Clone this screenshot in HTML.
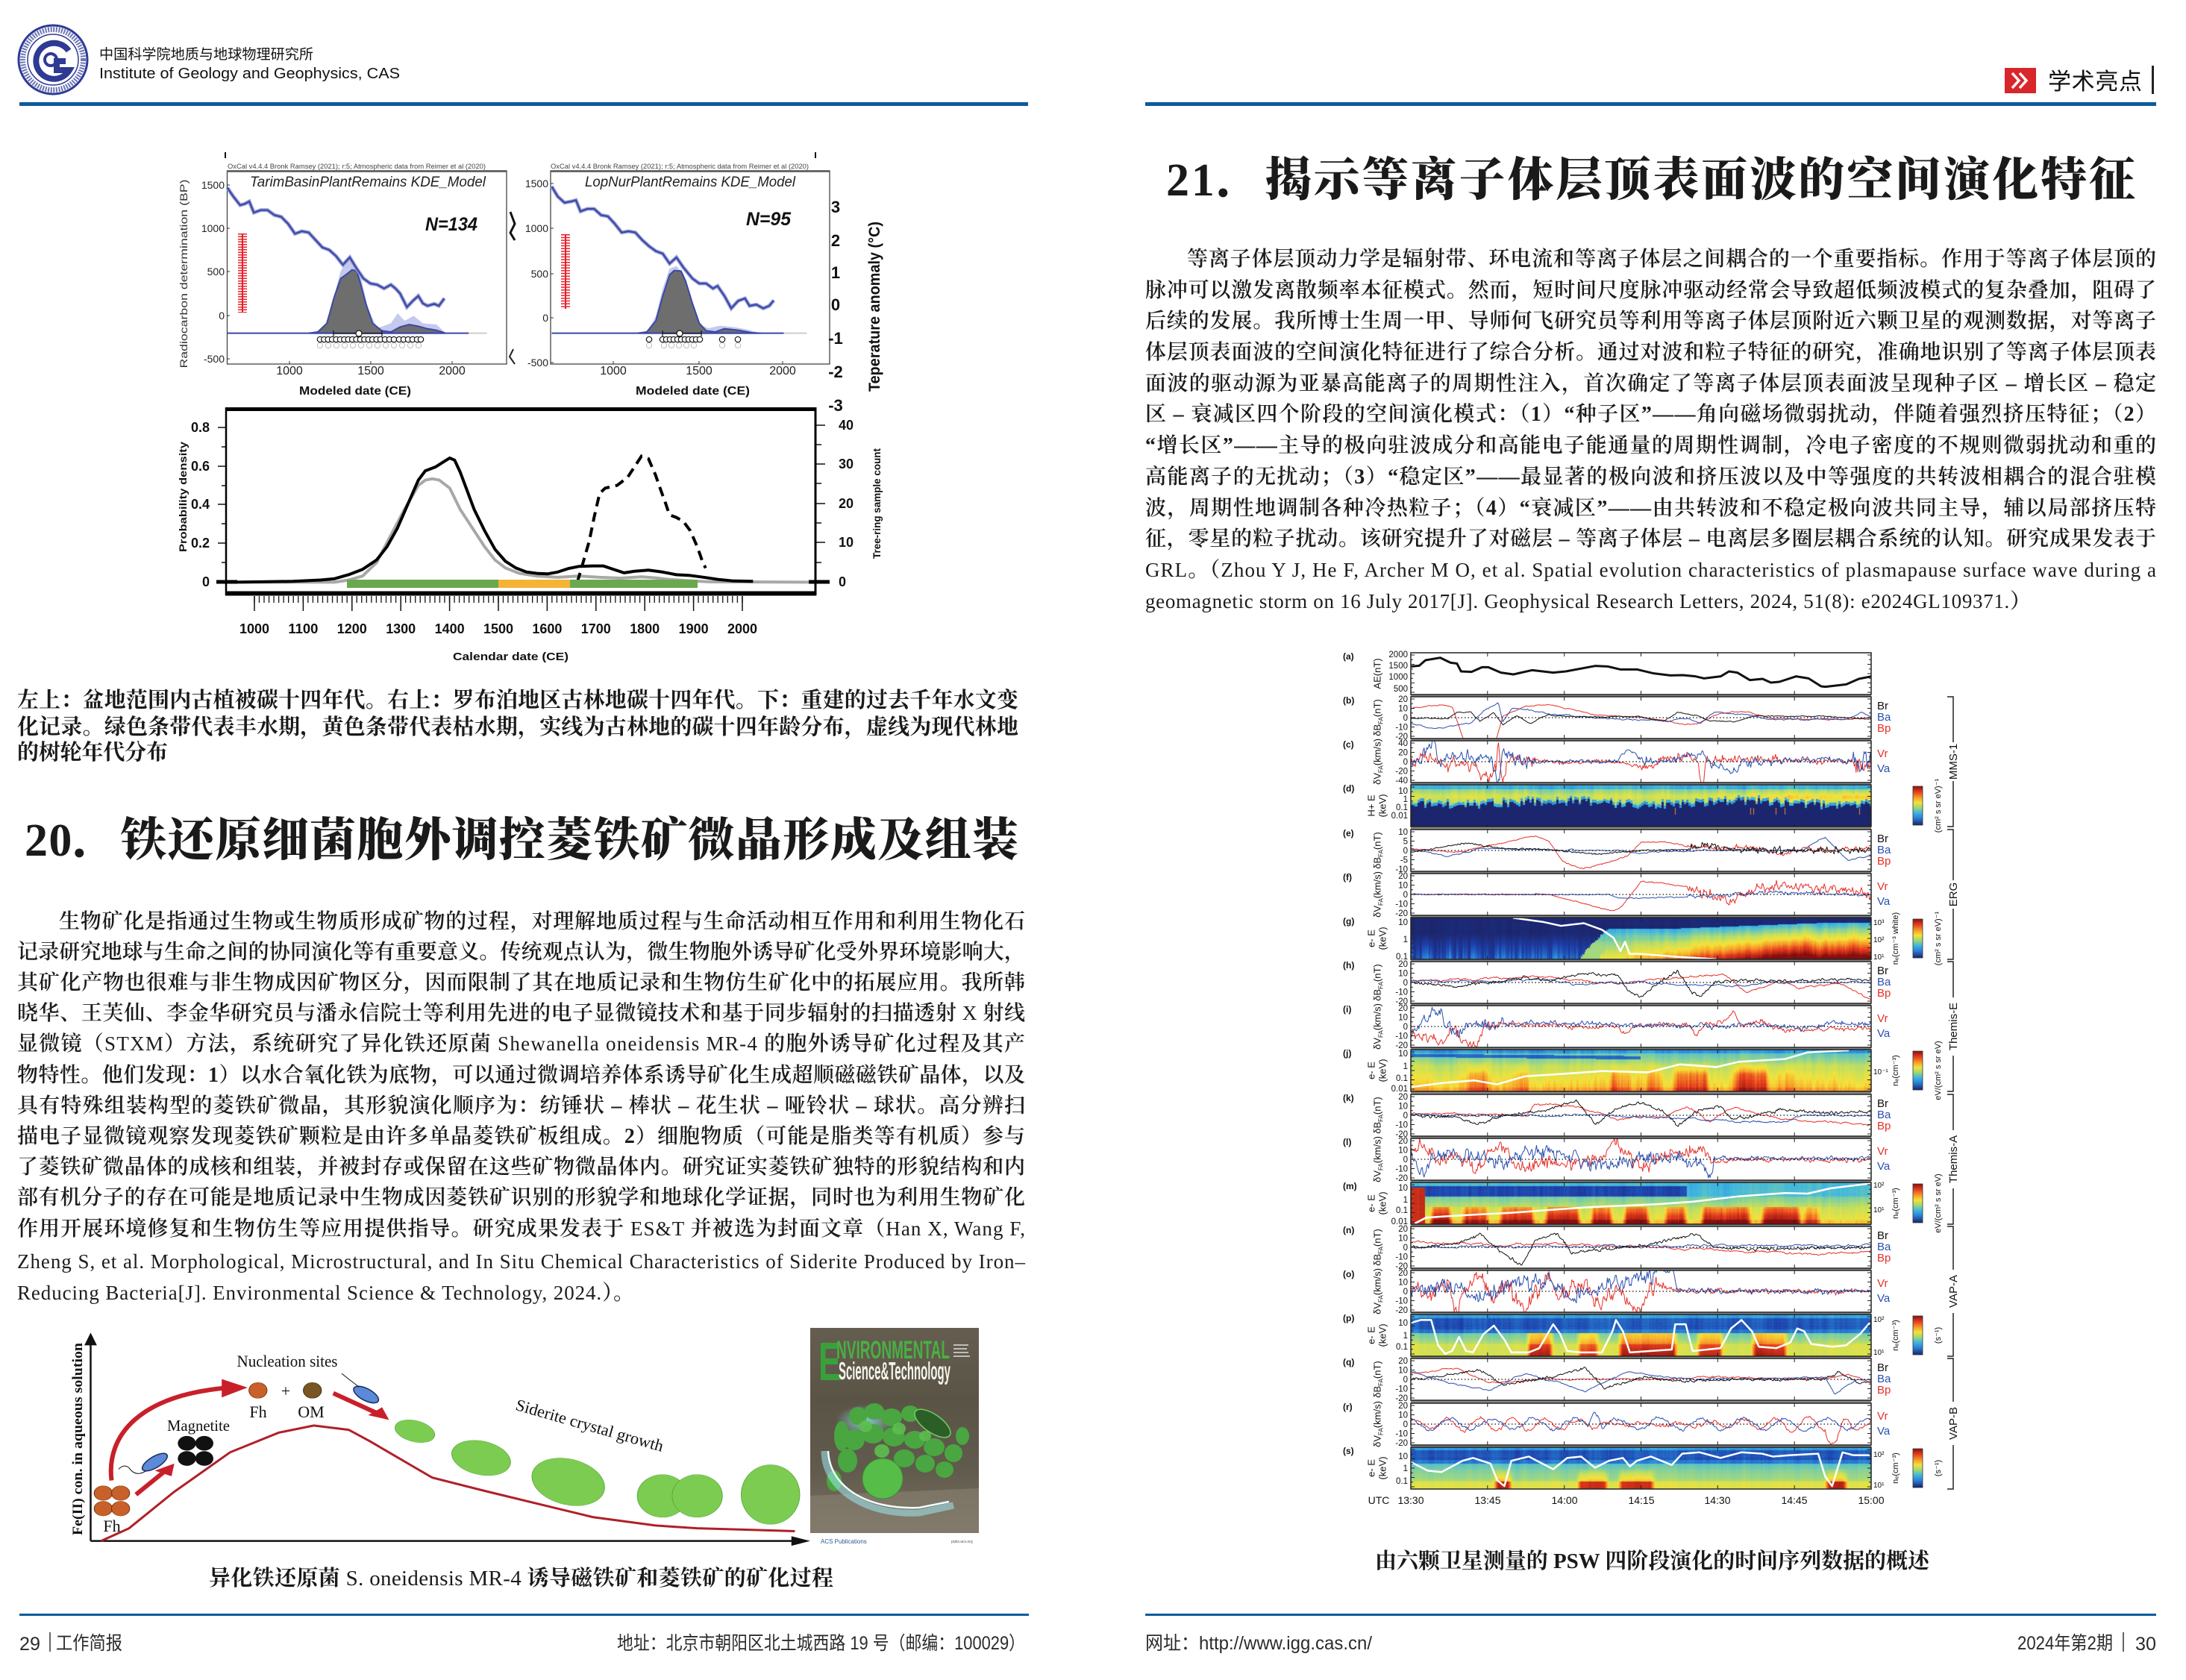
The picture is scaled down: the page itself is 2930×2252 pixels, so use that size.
<!DOCTYPE html>
<html lang="zh"><head><meta charset="utf-8"><title>IGG 工作简报</title>
<style>
html,body{margin:0;padding:0;background:#fff}
body{width:2930px;height:2252px;position:relative;overflow:hidden}
canvas{position:absolute;left:1891px;width:617px;height:56px;z-index:1}
#main{position:absolute;left:0;top:0;z-index:2}
.b{font-family:"Liberation Serif","Noto Serif CJK SC",serif;font-size:28px;font-weight:600;fill:#1c1c1c}
.e{font-weight:400;font-size:27px}
.cap{font-family:"Liberation Serif","Noto Serif CJK SC",serif;font-size:29px;font-weight:700;fill:#1a1a1a}
.ttl{font-family:"Liberation Serif","Noto Serif CJK SC",serif;font-size:62px;font-weight:900;fill:#1a1a1a}
.s{font-family:"Liberation Sans",sans-serif}
.sr{font-family:"Liberation Serif",serif;fill:#111}
.tk{font-family:"Liberation Sans",sans-serif;font-size:11.5px;fill:#111;text-anchor:end}
.pl{font-family:"Liberation Sans",sans-serif;font-size:12px;font-weight:700;fill:#111}
.yl{font-family:"Liberation Sans",sans-serif;font-size:13px;fill:#111;text-anchor:middle}
.lg{font-family:"Liberation Sans",sans-serif;font-size:15px}
.ft{font-family:"Liberation Sans","Noto Sans CJK SC",sans-serif;font-size:25px;fill:#2b2b2b}
.ax{font-family:"Liberation Sans",sans-serif;font-weight:700;fill:#111}
</style></head><body>
<canvas id="sd" width="617" height="56" style="top:1052px"></canvas>
<canvas id="sg" width="617" height="56" style="top:1230px"></canvas>
<canvas id="sj" width="617" height="56" style="top:1407px"></canvas>
<canvas id="sm" width="617" height="56" style="top:1585px"></canvas>
<canvas id="sp" width="617" height="56" style="top:1762px"></canvas>
<canvas id="ss" width="617" height="56" style="top:1940px"></canvas>

<svg id="main" width="2930" height="2252" viewBox="0 0 2930 2252" xmlns="http://www.w3.org/2000/svg">
<defs id="dfs">
<linearGradient id="jetv" x1="0" y1="0" x2="0" y2="1">
<stop offset="0" stop-color="#8a1010"/><stop offset="0.15" stop-color="#e8401e"/><stop offset="0.3" stop-color="#f7a02a"/><stop offset="0.42" stop-color="#f4e23a"/><stop offset="0.55" stop-color="#9fd870"/><stop offset="0.68" stop-color="#3fb6e0"/><stop offset="0.82" stop-color="#2a7fd6"/><stop offset="1" stop-color="#1a2266"/>
</linearGradient>
<linearGradient id="cov" x1="0" y1="0" x2="0" y2="1">
<stop offset="0" stop-color="#655e50"/><stop offset="0.35" stop-color="#5a5447"/><stop offset="0.7" stop-color="#615b4d"/><stop offset="1" stop-color="#7c7464"/>
</linearGradient>
<radialGradient id="glow" cx="0.5" cy="0.5" r="0.5">
<stop offset="0" stop-color="#8fe8f0" stop-opacity="0.8"/><stop offset="1" stop-color="#8fe8f0" stop-opacity="0"/>
</radialGradient>
<pattern id="mt" x="340.25" y="0" width="6.54" height="30" patternUnits="userSpaceOnUse"><rect width="1.3" height="30" fill="#111"/></pattern>
</defs>

<!-- ================= HEADER ================= -->
<circle cx="71" cy="80" r="46" fill="#fff" stroke="#2e3a94" stroke-width="3"/>
<circle cx="71" cy="80" r="40.5" fill="none" stroke="#2e3a94" stroke-width="7" stroke-dasharray="2 1.6" opacity="0.7"/>
<circle cx="71" cy="80" r="34" fill="#fff" stroke="#2e3a94" stroke-width="1.5"/>
<path d="M92,68 A24,24 0 1 0 93,94 L76,94 L76,82 L88,82" fill="none" stroke="#2e3a94" stroke-width="8"/>
<circle cx="68" cy="80" r="8" fill="none" stroke="#2e3a94" stroke-width="4"/>
<text x="133" y="79" font-family="Liberation Sans,Noto Sans CJK SC,sans-serif" font-size="19" fill="#111" textLength="287" lengthAdjust="spacingAndGlyphs">中国科学院地质与地球物理研究所</text>
<text x="133" y="105" class="s" font-size="20" fill="#111" textLength="403" lengthAdjust="spacingAndGlyphs">Institute of Geology and Geophysics, CAS</text>
<rect x="26" y="137" width="1352" height="5" fill="#0d5b9c"/>
<rect x="1535" y="137" width="1355" height="5" fill="#0d5b9c"/>
<rect x="2687" y="91" width="42" height="34" fill="#d9262b"/>
<path d="M2697,98 L2706,108 L2697,118 M2707,98 L2716,108 L2707,118" fill="none" stroke="#fff" stroke-width="3.5"/>
<text x="2745" y="120" font-family="Liberation Sans,Noto Sans CJK SC,sans-serif" font-size="31" fill="#111" textLength="126">学术亮点</text>
<rect x="2884" y="88" width="3" height="38" fill="#222"/>

<!-- ================= LEFT TOP CHART ================= -->
<line x1="302" y1="204" x2="302" y2="212" stroke="#111" stroke-width="2"/>
<line x1="1093" y1="204" x2="1093" y2="212" stroke="#111" stroke-width="2"/>
<path d="M684,284 L690,300 L684,312 L690,322" stroke="#111" stroke-width="3" fill="none"/>
<path d="M688,468 L683,478 L690,488" stroke="#222" stroke-width="2" fill="none"/>
<rect x="304.5" y="229" width="374.5" height="259" fill="none" stroke="#444" stroke-width="1.3"/>
<line x1="304" y1="229.5" x2="679" y2="229.5" stroke="#555" stroke-width="2.5"/>
<rect x="738" y="229" width="374" height="259" fill="none" stroke="#444" stroke-width="1.3"/>
<line x1="738" y1="229.5" x2="1112" y2="229.5" stroke="#555" stroke-width="2.5"/>
<text x="305" y="226" class="s" font-size="9" fill="#444" textLength="346" lengthAdjust="spacingAndGlyphs">OxCal v4.4.4 Bronk Ramsey (2021); r:5; Atmospheric data from Reimer et al (2020)</text>
<text x="738" y="226" class="s" font-size="9" fill="#444" textLength="346" lengthAdjust="spacingAndGlyphs">OxCal v4.4.4 Bronk Ramsey (2021); r:5; Atmospheric data from Reimer et al (2020)</text>

<g transform="translate(230,200) scale(0.61237,0.33333)" fill="none">
<path d="M330,740 L350,630 L370,490 L385,445 L400,460 L415,520 L430,640 L450,720 L480,700 L495,660 L510,690 L530,670 L550,700 L580,705 L600,740 Z" fill="#c5c9ee" stroke="none"/>
<path d="M1040,740 L1060,670 L1075,560 L1090,480 L1105,470 L1120,500 L1135,600 L1150,700 L1175,720 L1200,710 L1230,715 L1260,725 L1290,740 Z" fill="#c5c9ee" stroke="none"/>
<path d="M300,740 L320,735 L340,700 L355,600 L370,520 L385,500 L395,485 L405,490 L412,530 L425,620 L440,700 L460,730 L480,735 L500,715 L520,705 L540,712 L560,722 L580,728 L600,740 Z" fill="#6e6e6e" stroke="#3a48a6" stroke-width="2" vector-effect="non-scaling-stroke"/>
<path d="M1020,740 L1040,735 L1060,690 L1075,590 L1090,505 L1100,488 L1115,490 L1125,530 L1140,620 L1155,700 L1170,730 L1190,735 L1210,722 L1240,728 L1270,738 L1290,740 Z" fill="#6e6e6e" stroke="#3a48a6" stroke-width="2" vector-effect="non-scaling-stroke"/>
<path d="M122,740 L650,740 M832,740 L1340,740" stroke="#3a48a6" stroke-width="2" vector-effect="non-scaling-stroke"/>
<path d="M650,740 L690,740 M1340,740 L1390,740" stroke="#ccc" stroke-width="2" vector-effect="non-scaling-stroke"/>
<path d="M122,155 L135,190 L150,225 L160,220 L170,210 L180,255 L195,245 L210,245 L225,265 L240,272 L255,300 L270,340 L285,330 L300,335 L315,365 L330,395 L345,405 L360,430 L375,465 L390,435 L405,480 L420,520 L435,540 L450,545 L465,560 L480,545 L490,560 L500,580 L515,635 L528,610 L540,590 L550,620 L560,630 L575,622 L585,630 L597,600" stroke="#9aa0d8" stroke-width="5" vector-effect="non-scaling-stroke"/>
<path d="M122,155 L135,190 L150,225 L160,220 L170,210 L180,255 L195,245 L210,245 L225,265 L240,272 L255,300 L270,340 L285,330 L300,335 L315,365 L330,395 L345,405 L360,430 L375,465 L390,435 L405,480 L420,520 L435,540 L450,545 L465,560 L480,545 L490,560 L500,580 L515,635 L528,610 L540,590 L550,620 L560,630 L575,622 L585,630 L597,600" stroke="#3a48a6" stroke-width="2.2" vector-effect="non-scaling-stroke"/>
<path d="M832,150 L845,190 L860,215 L875,210 L885,205 L895,250 L910,240 L925,240 L940,265 L955,270 L970,300 L985,335 L1000,330 L1015,335 L1030,365 L1045,390 L1060,410 L1075,420 L1090,460 L1105,435 L1120,475 L1140,520 L1155,540 L1170,540 L1185,560 L1195,550 L1210,590 L1225,640 L1240,610 L1255,600 L1265,630 L1280,625 L1295,640 L1308,630 L1318,608" stroke="#9aa0d8" stroke-width="5" vector-effect="non-scaling-stroke"/>
<path d="M832,150 L845,190 L860,215 L875,210 L885,205 L895,250 L910,240 L925,240 L940,265 L955,270 L970,300 L985,335 L1000,330 L1015,335 L1030,365 L1045,390 L1060,410 L1075,420 L1090,460 L1105,435 L1120,475 L1140,520 L1155,540 L1170,540 L1185,560 L1195,550 L1210,590 L1225,640 L1240,610 L1255,600 L1265,630 L1280,625 L1295,640 L1308,630 L1318,608" stroke="#3a48a6" stroke-width="2.2" vector-effect="non-scaling-stroke"/>
</g>
<!-- red crosses -->
<line x1="325" y1="313" x2="325" y2="419" stroke="#e8202a" stroke-width="2"/>
<line x1="325" y1="313" x2="325" y2="419" stroke="#e8202a" stroke-width="12" stroke-dasharray="1.5 2"/>
<line x1="758" y1="314" x2="758" y2="414" stroke="#e8202a" stroke-width="2"/>
<line x1="758" y1="314" x2="758" y2="414" stroke="#e8202a" stroke-width="12" stroke-dasharray="1.5 2.2"/>
<!-- circle rows -->
<g fill="#fff" stroke="#bbb" stroke-width="1">
<circle cx="429" cy="463" r="3.6"/><circle cx="440" cy="463" r="3.6"/><circle cx="451" cy="463" r="3.6"/><circle cx="462" cy="463" r="3.6"/><circle cx="473" cy="463" r="3.6"/><circle cx="484" cy="463" r="3.6"/><circle cx="495" cy="463" r="3.6"/><circle cx="506" cy="463" r="3.6"/><circle cx="517" cy="463" r="3.6"/><circle cx="528" cy="463" r="3.6"/><circle cx="539" cy="463" r="3.6"/><circle cx="550" cy="463" r="3.6"/><circle cx="561" cy="463" r="3.6"/>
<circle cx="870" cy="463" r="3.6"/><circle cx="890" cy="463" r="3.6"/><circle cx="900" cy="463" r="3.6"/><circle cx="910" cy="463" r="3.6"/><circle cx="920" cy="463" r="3.6"/><circle cx="930" cy="463" r="3.6"/><circle cx="968" cy="463" r="3.6"/><circle cx="989" cy="463" r="3.6"/>
</g>
<g fill="#fff" stroke="#111" stroke-width="1.2">
<circle cx="429" cy="455" r="3.7"/><circle cx="434.4" cy="455" r="3.7"/><circle cx="439.8" cy="455" r="3.7"/><circle cx="445.2" cy="455" r="3.7"/><circle cx="450.6" cy="455" r="3.7"/><circle cx="456" cy="455" r="3.7"/><circle cx="461.4" cy="455" r="3.7"/><circle cx="466.8" cy="455" r="3.7"/><circle cx="472.2" cy="455" r="3.7"/><circle cx="477.6" cy="455" r="3.7"/><circle cx="483" cy="455" r="3.7"/><circle cx="488.4" cy="455" r="3.7"/><circle cx="493.8" cy="455" r="3.7"/><circle cx="499.2" cy="455" r="3.7"/><circle cx="504.6" cy="455" r="3.7"/><circle cx="510" cy="455" r="3.7"/><circle cx="516" cy="455" r="3.7"/><circle cx="522" cy="455" r="3.7"/><circle cx="528" cy="455" r="3.7"/><circle cx="535" cy="455" r="3.7"/><circle cx="541" cy="455" r="3.7"/><circle cx="547" cy="455" r="3.7"/><circle cx="553" cy="455" r="3.7"/><circle cx="559" cy="455" r="3.7"/><circle cx="564" cy="455" r="3.7"/>
<circle cx="870" cy="455" r="3.7"/><circle cx="888" cy="455" r="3.7"/><circle cx="893" cy="455" r="3.7"/><circle cx="898" cy="455" r="3.7"/><circle cx="903" cy="455" r="3.7"/><circle cx="908" cy="455" r="3.7"/><circle cx="913" cy="455" r="3.7"/><circle cx="918" cy="455" r="3.7"/><circle cx="923" cy="455" r="3.7"/><circle cx="928" cy="455" r="3.7"/><circle cx="933" cy="455" r="3.7"/><circle cx="938" cy="455" r="3.7"/><circle cx="968" cy="455" r="3.7"/><circle cx="989" cy="455" r="3.7"/>
</g>
<path d="M447,447 H512 M447,443 V451 M512,443 V451 M888,447 H940 M888,443 V451 M940,443 V451" stroke="#111" stroke-width="1.2"/>
<circle cx="481" cy="447" r="4" fill="#fff" stroke="#111" stroke-width="1.2"/>
<circle cx="911" cy="447" r="4" fill="#fff" stroke="#111" stroke-width="1.2"/>
<!-- labels -->
<text x="335" y="250" class="s" font-size="19" font-style="italic" fill="#222" textLength="316" lengthAdjust="spacingAndGlyphs">TarimBasinPlantRemains KDE_Model</text>
<text x="784" y="250" class="s" font-size="19" font-style="italic" fill="#222" textLength="282" lengthAdjust="spacingAndGlyphs">LopNurPlantRemains KDE_Model</text>
<text x="570" y="309" class="s" font-size="25" font-style="italic" font-weight="700" fill="#111" textLength="70" lengthAdjust="spacingAndGlyphs">N=134</text>
<text x="1000" y="302" class="s" font-size="25" font-style="italic" font-weight="700" fill="#111" textLength="60" lengthAdjust="spacingAndGlyphs">N=95</text>
<g class="s" font-size="14" fill="#222" text-anchor="end">
<text x="301" y="253">1500</text><text x="301" y="311">1000</text><text x="301" y="369">500</text><text x="301" y="428">0</text><text x="301" y="486">-500</text>
<text x="735" y="251">1500</text><text x="735" y="311">1000</text><text x="735" y="372">500</text><text x="735" y="431">0</text><text x="735" y="491">-500</text>
</g>
<path d="M304,248 h4 M304,306 h4 M304,364 h4 M304,423 h4 M304,481 h4 M738,246 h4 M738,306 h4 M738,367 h4 M738,426 h4 M738,486 h4 M388,488 v-4 M497,488 v-4 M606,488 v-4 M822,488 v-4 M937,488 v-4 M1049,488 v-4" stroke="#333" stroke-width="1"/>
<g class="s" font-size="16" fill="#222" text-anchor="middle">
<text x="388" y="502">1000</text><text x="497" y="502">1500</text><text x="606" y="502">2000</text>
<text x="822" y="502">1000</text><text x="937" y="502">1500</text><text x="1049" y="502">2000</text>
</g>
<text x="401" y="529" class="ax" font-size="16" textLength="150" lengthAdjust="spacingAndGlyphs">Modeled date (CE)</text>
<text x="852" y="529" class="ax" font-size="16" textLength="153" lengthAdjust="spacingAndGlyphs">Modeled date (CE)</text>
<g class="ax" font-size="22" text-anchor="middle">
<text x="1120" y="285">3</text><text x="1120" y="330">2</text><text x="1120" y="373">1</text><text x="1120" y="416">0</text><text x="1120" y="461">-1</text><text x="1120" y="506">-2</text><text x="1120" y="551">-3</text>
</g>
<text transform="rotate(-90 1172 411)" x="1172" y="418" class="ax" font-size="21" text-anchor="middle" textLength="228" lengthAdjust="spacingAndGlyphs">Teperature anomaly (°C)</text>
<text transform="rotate(-90 246 367)" x="246" y="372" class="s" font-size="14" fill="#333" text-anchor="middle" textLength="253" lengthAdjust="spacingAndGlyphs">Radiocarbon determination (BP)</text>

<!-- ================= LEFT BOTTOM CHART ================= -->
<g transform="translate(0,540) scale(0.93458,0.35714)" fill="none">
<path d="M345,673 L480,673 L500,665 L520,650 L540,600 L560,500 L580,400 L600,310 L610,290 L620,285 L630,290 L645,320 L660,400 L680,480 L695,540 L710,590 L725,620 L745,640 L770,650 L800,655 L830,650 L860,655 L890,658 L920,653 L940,657 L960,663 L990,668 L1020,672 L1160,673" stroke="#a8a8a8" stroke-width="4" stroke-linejoin="round" vector-effect="non-scaling-stroke"/>
<path d="M340,673 L420,670 L460,665 L480,660 L500,645 L520,625 L540,590 L555,540 L570,470 L585,380 L600,290 L610,255 L625,240 L640,215 L645,207 L652,215 L660,260 L670,330 L680,400 L695,480 L710,550 L725,595 L740,620 L755,635 L770,640 L785,642 L800,635 L815,622 L830,614 L850,612 L865,612 L880,625 L895,638 L910,632 L930,628 L950,635 L970,645 L990,648 L1010,655 L1030,663 L1050,668 L1080,670" stroke="#000" stroke-width="4" stroke-linejoin="round" vector-effect="non-scaling-stroke"/>
</g>
<path d="M773.8,780.4 L780.4,757.9 L789.7,725.7 L796.3,693.6 L803.7,661.4 L811.2,654.3 L827.1,650.7 L841.1,640 L850.5,625.7 L859.8,611.4 L869.2,615 L878.5,636.4 L886,657.9 L892.5,675.7 L897.2,690 L906.5,693.6 L915.9,698.9 L925.2,711.4 L934.6,732.9 L942.1,754.3 L945.8,761.4" fill="none" stroke="#000" stroke-width="4" stroke-dasharray="13 8"/>
<rect x="465" y="777" width="203" height="11" fill="#6aa84f"/>
<rect x="668" y="777" width="96" height="11" fill="#f5b335"/>
<rect x="764" y="777" width="171" height="11" fill="#6aa84f"/>
<line x1="302" y1="548.5" x2="1094" y2="548.5" stroke="#000" stroke-width="5"/>
<line x1="302" y1="795.5" x2="1094" y2="795.5" stroke="#000" stroke-width="6"/>
<line x1="303" y1="546" x2="303" y2="798" stroke="#000" stroke-width="2.5"/>
<line x1="1093" y1="546" x2="1093" y2="798" stroke="#000" stroke-width="3"/>
<path d="M292,573 H302 M292,625 H302 M292,676 H302 M292,728 H302 M297,599 H302 M297,651 H302 M297,702 H302 M297,754 H302 M1093,570 H1106 M1093,622 H1106 M1093,675 H1106 M1093,727 H1106 M1093,596 H1101 M1093,648 H1101 M1093,701 H1101 M1093,754 H1101" stroke="#111" stroke-width="1.5"/>
<path d="M290,780 H318 M1084,780 H1112" stroke="#000" stroke-width="5"/>
<rect x="340" y="799" width="657" height="9" fill="url(#mt)"/>
<path d="M341,799V819 M406.4,799V819 M471.8,799V819 M537.2,799V819 M602.6,799V819 M668,799V819 M733.4,799V819 M798.8,799V819 M864.2,799V819 M929.6,799V819 M995,799V819" stroke="#111" stroke-width="1.5"/>
<g class="ax" font-size="18" text-anchor="end">
<text x="281" y="579">0.8</text><text x="281" y="631">0.6</text><text x="281" y="682">0.4</text><text x="281" y="734">0.2</text><text x="281" y="786">0</text>
</g>
<g class="ax" font-size="18">
<text x="1124" y="576">40</text><text x="1124" y="628">30</text><text x="1124" y="681">20</text><text x="1124" y="733">10</text><text x="1124" y="786">0</text>
</g>
<g class="ax" font-size="18" text-anchor="middle">
<text x="341" y="849" textLength="40" lengthAdjust="spacingAndGlyphs">1000</text><text x="406.4" y="849" textLength="40" lengthAdjust="spacingAndGlyphs">1100</text><text x="471.8" y="849" textLength="40" lengthAdjust="spacingAndGlyphs">1200</text><text x="537.2" y="849" textLength="40" lengthAdjust="spacingAndGlyphs">1300</text><text x="602.6" y="849" textLength="40" lengthAdjust="spacingAndGlyphs">1400</text><text x="668" y="849" textLength="40" lengthAdjust="spacingAndGlyphs">1500</text><text x="733.4" y="849" textLength="40" lengthAdjust="spacingAndGlyphs">1600</text><text x="798.8" y="849" textLength="40" lengthAdjust="spacingAndGlyphs">1700</text><text x="864.2" y="849" textLength="40" lengthAdjust="spacingAndGlyphs">1800</text><text x="929.6" y="849" textLength="40" lengthAdjust="spacingAndGlyphs">1900</text><text x="995" y="849" textLength="40" lengthAdjust="spacingAndGlyphs">2000</text>
</g>
<text x="607" y="885" class="ax" font-size="15" textLength="155" lengthAdjust="spacingAndGlyphs">Calendar date (CE)</text>
<text transform="rotate(-90 245 666)" x="245" y="671" class="ax" font-size="14" fill="#333" text-anchor="middle" textLength="148" lengthAdjust="spacingAndGlyphs">Probability density</text>
<text transform="rotate(-90 1175 675)" x="1175" y="680" class="ax" font-size="14" fill="#333" text-anchor="middle" textLength="148" lengthAdjust="spacingAndGlyphs">Tree-ring sample count</text>

<!-- left caption -->
<text x="23" y="948" class="cap" textLength="1342">左上：盆地范围内古植被碳十四年代。右上：罗布泊地区古林地碳十四年代。下：重建的过去千年水文变</text>
<text x="23" y="984" class="cap" textLength="1342">化记录。绿色条带代表丰水期，黄色条带代表枯水期，实线为古林地的碳十四年龄分布，虚线为现代林地</text>
<text x="23" y="1018" class="cap" textLength="202">的树轮年代分布</text>

<!-- ================= TITLE 20 + BODY ================= -->
<text x="33" y="1147" class="ttl" textLength="1332">20．铁还原细菌胞外调控菱铁矿微晶形成及组装</text>
<text x="79" y="1244" class="b" textLength="1295">生物矿化是指通过生物或生物质形成矿物的过程，对理解地质过程与生命活动相互作用和利用生物化石</text>
<text x="23" y="1285" class="b" textLength="1351">记录研究地球与生命之间的协同演化等有重要意义。传统观点认为，微生物胞外诱导矿化受外界环境影响大，</text>
<text x="23" y="1326" class="b" textLength="1351">其矿化产物也很难与非生物成因矿物区分，因而限制了其在地质记录和生物仿生矿化中的拓展应用。我所韩</text>
<text x="23" y="1367" class="b" textLength="1351">晓华、王芙仙、李金华研究员与潘永信院士等利用先进的电子显微镜技术和基于同步辐射的扫描透射<tspan class="e"> X </tspan>射线</text>
<text x="23" y="1408" class="b" textLength="1351">显微镜（<tspan class="e">STXM</tspan>）方法，系统研究了异化铁还原菌<tspan class="e"> Shewanella oneidensis MR-4 </tspan>的胞外诱导矿化过程及其产</text>
<text x="23" y="1450" class="b" textLength="1351">物特性。他们发现：1）以水合氧化铁为底物，可以通过微调培养体系诱导矿化生成超顺磁磁铁矿晶体，以及</text>
<text x="23" y="1491" class="b" textLength="1351">具有特殊组装构型的菱铁矿微晶，其形貌演化顺序为：纺锤状 – 棒状 – 花生状 – 哑铃状 – 球状。高分辨扫</text>
<text x="23" y="1532" class="b" textLength="1351">描电子显微镜观察发现菱铁矿颗粒是由许多单晶菱铁矿板组成。2）细胞物质（可能是脂类等有机质）参与</text>
<text x="23" y="1573" class="b" textLength="1351">了菱铁矿微晶体的成核和组装，并被封存或保留在这些矿物微晶体内。研究证实菱铁矿独特的形貌结构和内</text>
<text x="23" y="1614" class="b" textLength="1351">部有机分子的存在可能是地质记录中生物成因菱铁矿识别的形貌学和地球化学证据，同时也为利用生物矿化</text>
<text x="23" y="1656" class="b" textLength="1351">作用开展环境修复和生物仿生等应用提供指导。研究成果发表于<tspan class="e"> ES&amp;T </tspan>并被选为封面文章（<tspan class="e">Han X, Wang F,</tspan></text>
<text x="23" y="1700" class="b" textLength="1351"><tspan class="e">Zheng S, et al. Morphological, Microstructural, and In Situ Chemical Characteristics of Siderite Produced by Iron–</tspan></text>
<text x="23" y="1742" class="b" textLength="827"><tspan class="e">Reducing Bacteria[J]. Environmental Science &amp; Technology, 2024.</tspan>）。</text>

<!-- ================= LEFT BOTTOM DIAGRAM ================= -->
<g transform="translate(0,1660) scale(0.93458,0.37736)">
<path d="M130,1075 L130,360 M130,1075 L1145,1075" stroke="#111" stroke-width="2.5" fill="none" vector-effect="non-scaling-stroke"/>
<polygon points="121,380 130,335 139,380" fill="#111"/>
<polygon points="1135,1058 1162,1075 1135,1092" fill="#111"/>
<path d="M145,1075 L185,1030 L250,900 L330,760 L400,690 L450,665 L500,680 L530,720 L620,850 L700,900 L850,990 L940,1020 L1000,1030 L1140,1040" stroke="#b02028" stroke-width="3" fill="none" vector-effect="non-scaling-stroke"/>
<path d="M160,860 C152,700 200,555 330,530" stroke="#c8202a" stroke-width="6" fill="none" vector-effect="non-scaling-stroke"/>
<polygon points="318,500 355,530 318,565" fill="#c8202a"/>
<path d="M195,910 L235,830" stroke="#c8202a" stroke-width="6" fill="none" vector-effect="non-scaling-stroke"/>
<polygon points="222,825 250,800 246,845" fill="#c8202a"/>
<path d="M478,550 L540,620" stroke="#c8202a" stroke-width="6" fill="none" vector-effect="non-scaling-stroke"/>
<polygon points="528,628 558,645 548,600" fill="#c8202a"/>
<g fill="#c8602a" stroke="#6a2a08" stroke-width="1" vector-effect="non-scaling-stroke">
<ellipse cx="148" cy="905" rx="13" ry="26"/><ellipse cx="173" cy="905" rx="13" ry="26"/><ellipse cx="148" cy="960" rx="13" ry="26"/><ellipse cx="173" cy="960" rx="13" ry="26"/>
<ellipse cx="370" cy="540" rx="13" ry="28"/>
</g>
<ellipse cx="448" cy="540" rx="13" ry="28" fill="#7a5525" stroke="#3a2508"/>
<g fill="#111"><ellipse cx="268" cy="728" rx="13" ry="26"/><ellipse cx="293" cy="728" rx="13" ry="26"/><ellipse cx="268" cy="782" rx="13" ry="26"/><ellipse cx="293" cy="782" rx="13" ry="26"/></g>
<ellipse cx="222" cy="795" rx="12" ry="34" transform="rotate(25 222 795)" fill="#5a8ad8" stroke="#1a2a5a" stroke-width="1.5" vector-effect="non-scaling-stroke"/>
<path d="M210,825 Q195,850 185,815 Q178,800 170,820" stroke="#111" fill="none" stroke-width="1" vector-effect="non-scaling-stroke"/>
<ellipse cx="525" cy="555" rx="13" ry="32" transform="rotate(-25 525 555)" fill="#5a8ad8" stroke="#1a2a5a" stroke-width="1.5" vector-effect="non-scaling-stroke"/>
<path d="M515,528 Q500,500 490,480" stroke="#111" fill="none" stroke-width="1" vector-effect="non-scaling-stroke"/>
<g fill="#7ccc52" stroke="#58a83a" stroke-width="1" vector-effect="non-scaling-stroke">
<ellipse cx="595" cy="685" rx="26" ry="42" transform="rotate(-20 595 685)"/>
<ellipse cx="690" cy="780" rx="40" ry="64" transform="rotate(-15 690 780)"/>
<ellipse cx="815" cy="865" rx="50" ry="86" transform="rotate(-12 815 865)"/>
<ellipse cx="950" cy="915" rx="36" ry="76"/>
<ellipse cx="1000" cy="915" rx="36" ry="76"/>
<ellipse cx="1105" cy="910" rx="42" ry="106"/>
</g>
</g>
<text x="385" y="1832" class="sr" font-size="22" text-anchor="middle" textLength="135" lengthAdjust="spacingAndGlyphs">Nucleation sites</text>
<text x="383" y="1872" class="sr" font-size="22" text-anchor="middle">+</text>
<text x="346" y="1900" class="sr" font-size="22" text-anchor="middle">Fh</text>
<text x="417" y="1900" class="sr" font-size="22" text-anchor="middle">OM</text>
<text x="266" y="1918" class="sr" font-size="21" text-anchor="middle" textLength="84" lengthAdjust="spacingAndGlyphs">Magnetite</text>
<text x="150" y="2053" class="sr" font-size="22" text-anchor="middle">Fh</text>
<text transform="rotate(16 790 1912)" x="790" y="1918" class="sr" font-size="22" text-anchor="middle" textLength="205" lengthAdjust="spacingAndGlyphs">Siderite crystal growth</text>
<text transform="rotate(-90 103 1929)" x="103" y="1936" class="sr" font-size="19" font-weight="700" text-anchor="middle" textLength="258" lengthAdjust="spacingAndGlyphs">Fe(II) con. in aqueous solution</text>
<!-- journal cover -->
<rect x="1086" y="1780" width="226" height="275" fill="url(#cov)"/>
<path d="M1086,2005 L1312,1995 L1312,2055 L1086,2055 Z" fill="#857d6d" opacity="0.7"/>
<text x="1097" y="1850" font-family="Liberation Sans,sans-serif" font-weight="700" font-size="72" fill="#3aa03a" textLength="30" lengthAdjust="spacingAndGlyphs">E</text>
<text x="1121" y="1821" class="s" font-weight="700" font-size="34" fill="#49b043" textLength="152" lengthAdjust="spacingAndGlyphs">NVIRONMENTAL</text>
<text x="1124" y="1849" class="s" font-weight="700" font-size="33" fill="#f4f4ec" textLength="150" lengthAdjust="spacingAndGlyphs">Science&amp;Technology</text>
<path d="M1278,1803 h20 M1278,1808 h18 M1278,1813 h20 M1278,1818 h22" stroke="#ddd" stroke-width="1.5"/>
<ellipse cx="1160" cy="1905" rx="40" ry="22" fill="url(#glow)"/>
<g fill="#4aa640">
<ellipse cx="1128" cy="1925" rx="10" ry="20"/><ellipse cx="1150" cy="1898" rx="12" ry="12"/><ellipse cx="1172" cy="1892" rx="13" ry="11"/><ellipse cx="1195" cy="1900" rx="14" ry="12"/><ellipse cx="1220" cy="1895" rx="12" ry="11"/>
<ellipse cx="1145" cy="1930" rx="14" ry="14"/><ellipse cx="1170" cy="1922" rx="15" ry="13"/><ellipse cx="1198" cy="1926" rx="15" ry="13"/><ellipse cx="1226" cy="1930" rx="14" ry="12"/><ellipse cx="1252" cy="1940" rx="14" ry="12"/>
<ellipse cx="1278" cy="1948" rx="12" ry="12"/><ellipse cx="1136" cy="1958" rx="13" ry="16"/><ellipse cx="1212" cy="1955" rx="14" ry="12"/><ellipse cx="1240" cy="1962" rx="13" ry="12"/><ellipse cx="1266" cy="1970" rx="12" ry="11"/>
<ellipse cx="1290" cy="1925" rx="9" ry="12"/><ellipse cx="1118" cy="1985" rx="10" ry="14"/>
</g>
<g fill="#5cbf4e" opacity="0.9">
<ellipse cx="1160" cy="1912" rx="9" ry="8"/><ellipse cx="1205" cy="1915" rx="9" ry="8"/><ellipse cx="1240" cy="1925" rx="8" ry="7"/><ellipse cx="1182" cy="1945" rx="10" ry="9"/>
</g>
<ellipse cx="1250" cy="1908" rx="28" ry="12" transform="rotate(35 1250 1908)" fill="#2c5e28" stroke="#6fd060" stroke-width="1.5"/>
<path d="M1105,1945 C1105,1995 1160,2032 1232,2028 L1278,2018" fill="none" stroke="#9fe8f0" stroke-width="9" opacity="0.55"/>
<path d="M1110,1945 C1112,1992 1160,2024 1232,2021 L1272,2013" fill="none" stroke="#f0ffff" stroke-width="2.5"/>
<circle cx="1183" cy="1982" r="27" fill="#55bd48"/>
<circle cx="1183" cy="1982" r="27" fill="none" stroke="#3c8a34" stroke-width="1"/>
<rect x="1086" y="2055" width="226" height="22" fill="#fff"/>
<text x="1100" y="2069" class="s" font-size="8" fill="#2a5a9a">ACS Publications</text>
<text x="1275" y="2068" class="s" font-size="5" fill="#555">pubs.acs.org</text>
<text x="280" y="2125" class="cap" font-size="28" textLength="837">异化铁还原菌<tspan font-family="Liberation Serif" font-weight="400"> S. oneidensis MR-4 </tspan>诱导磁铁矿和菱铁矿的矿化过程</text>

<!-- footers -->
<rect x="26" y="2163" width="1353" height="3" fill="#0d5b9c"/>
<rect x="1535" y="2163" width="1355" height="3" fill="#0d5b9c"/>
<text x="26" y="2212" class="ft" font-size="28" textLength="28" lengthAdjust="spacingAndGlyphs">29</text>
<line x1="67" y1="2188" x2="67" y2="2214" stroke="#333" stroke-width="1.5"/>
<text x="75" y="2211" class="ft" textLength="89" lengthAdjust="spacingAndGlyphs">工作简报</text>
<text x="827" y="2211" class="ft" textLength="547" lengthAdjust="spacingAndGlyphs">地址：北京市朝阳区北土城西路 19 号（邮编：100029）</text>
<text x="1535" y="2211" class="ft" textLength="304" lengthAdjust="spacingAndGlyphs">网址：http://www.igg.cas.cn/</text>
<text x="2704" y="2211" class="ft" textLength="128" lengthAdjust="spacingAndGlyphs">2024年第2期</text>
<line x1="2846" y1="2188" x2="2846" y2="2214" stroke="#333" stroke-width="1.5"/>
<text x="2862" y="2212" class="ft" font-size="28" textLength="28" lengthAdjust="spacingAndGlyphs">30</text>

<!-- ================= RIGHT PAGE TEXT ================= -->
<text x="1563" y="262" class="ttl" textLength="1299">21．揭示等离子体层顶表面波的空间演化特征</text>
<text x="1591" y="356" class="b" textLength="1299">等离子体层顶动力学是辐射带、环电流和等离子体层之间耦合的一个重要指标。作用于等离子体层顶的</text>
<text x="1535" y="398" class="b" textLength="1355">脉冲可以激发离散频率本征模式。然而，短时间尺度脉冲驱动经常会导致超低频波模式的复杂叠加，阻碍了</text>
<text x="1535" y="439" class="b" textLength="1355">后续的发展。我所博士生周一甲、导师何飞研究员等利用等离子体层顶附近六颗卫星的观测数据，对等离子</text>
<text x="1535" y="481" class="b" textLength="1355">体层顶表面波的空间演化特征进行了综合分析。通过对波和粒子特征的研究，准确地识别了等离子体层顶表</text>
<text x="1535" y="523" class="b" textLength="1355">面波的驱动源为亚暴高能离子的周期性注入，首次确定了等离子体层顶表面波呈现种子区 – 增长区 – 稳定</text>
<text x="1535" y="564" class="b" textLength="1355">区 – 衰减区四个阶段的空间演化模式：（1）“种子区”——角向磁场微弱扰动，伴随着强烈挤压特征；（2）</text>
<text x="1535" y="606" class="b" textLength="1355">“增长区”——主导的极向驻波成分和高能电子能通量的周期性调制，冷电子密度的不规则微弱扰动和重的</text>
<text x="1535" y="648" class="b" textLength="1355">高能离子的无扰动；（3）“稳定区”——最显著的极向波和挤压波以及中等强度的共转波相耦合的混合驻模</text>
<text x="1535" y="690" class="b" textLength="1355">波，周期性地调制各种冷热粒子；（4）“衰减区”——由共转波和不稳定极向波共同主导，辅以局部挤压特</text>
<text x="1535" y="731" class="b" textLength="1355">征，零星的粒子扰动。该研究提升了对磁层 – 等离子体层 – 电离层多圈层耦合系统的认知。研究成果发表于</text>
<text x="1535" y="773" class="b" textLength="1355"><tspan class="e">GRL</tspan>。（<tspan class="e">Zhou Y J, He F, Archer M O, et al. Spatial evolution characteristics of plasmapause surface wave during a</tspan></text>
<text x="1535" y="815" class="b" textLength="1187"><tspan class="e">geomagnetic storm on 16 July 2017[J]. Geophysical Research Letters, 2024, 51(8): e2024GL109371.</tspan>）</text>
<text x="1843" y="2102" class="cap" font-size="29" textLength="743">由六颗卫星测量的<tspan font-family="Liberation Serif"> PSW </tspan>四阶段演化的时间序列数据的概述</text>

<!-- ================= RIGHT FIGURE ================= -->
<g id="traces"></g>
<g transform="translate(1790,860) scale(0.56117,0.33333)">
<path d="M180,100 L200,97 L215,75 L250,65 L275,85 L290,88 L300,120 L325,122 L350,103 L365,103 L395,125 L425,132 L470,115 L520,125 L550,120 L620,98 L650,100 L680,112 L720,112 L760,128 L800,136 L830,135 L860,140 L880,148 L920,140 L940,120 L960,125 L990,155 L1020,150 L1040,165 L1060,162 L1100,140 L1130,148 L1160,180 L1170,182 L1220,172 L1250,150 L1280,140" fill="none" stroke="#111" stroke-width="3" stroke-linejoin="round" vector-effect="non-scaling-stroke"/>
</g>
<g transform="translate(1780,1100) scale(0.61237,0.35714)" fill="none" stroke="#fff" stroke-width="2.5" stroke-linejoin="round">
<path vector-effect="non-scaling-stroke" d="M405,365 L470,380 L510,395 L560,385 L600,410 L625,440 L640,490 L650,455 L660,500 L680,500 L720,505 L770,512 L850,520"/>
<path vector-effect="non-scaling-stroke" d="M182,1000 L250,985 L320,975 L370,990 L430,960 L520,950 L600,940 L700,945 L770,915 L850,925 L900,905 L1000,895 L1050,870 L1140,862"/>
<path vector-effect="non-scaling-stroke" d="M190,1512 L215,1490 L260,1485 L330,1478 L400,1472 L480,1462 L560,1452 L650,1445 L720,1440 L800,1430 L850,1420 L900,1410 L1000,1398 L1050,1400 L1100,1380 L1188,1362"/>
</g>
<g transform="translate(1465,1660) scale(0.93458,0.37736)" fill="none" stroke="#fff" stroke-width="2.5" stroke-linejoin="round">
<path vector-effect="non-scaling-stroke" d="M456,300 L470,290 L485,290 L495,380 L505,410 L515,400 L525,350 L535,400 L545,405 L560,340 L575,310 L590,360 L600,405 L625,405 L640,390 L660,305 L670,340 L680,400 L700,405 L730,405 L745,330 L750,290 L760,330 L770,405 L830,395 L835,305 L850,305 L860,400 L900,390 L915,320 L930,290 L945,330 L955,385 L980,390 L1000,370 L1010,320 L1020,330 L1030,375 L1045,380 L1060,385 L1080,380 L1100,340 L1114,300"/>
<path vector-effect="non-scaling-stroke" d="M456,795 L480,825 L500,830 L530,790 L545,780 L570,800 L580,860 L590,880 L600,790 L625,775 L660,820 L680,780 L700,775 L720,815 L740,790 L760,780 L770,810 L780,790 L800,775 L830,805 L845,765 L870,760 L900,780 L930,760 L960,765 L975,775 L1000,770 L1040,765 L1050,845 L1060,880 L1075,760 L1090,770 L1114,770"/>
</g>
<g id="ticks"></g>
<!-- gaps -->
<g fill="#8a8a8a">
<rect x="1891" y="931" width="617" height="3"/><rect x="1891" y="990" width="617" height="3"/><rect x="1891" y="1049" width="617" height="3"/><rect x="1891" y="1108" width="617" height="4"/><rect x="1891" y="1168" width="617" height="3"/><rect x="1891" y="1227" width="617" height="3"/><rect x="1891" y="1286" width="617" height="3"/><rect x="1891" y="1345" width="617" height="3"/><rect x="1891" y="1404" width="617" height="3"/><rect x="1891" y="1463" width="617" height="4"/><rect x="1891" y="1523" width="617" height="3"/><rect x="1891" y="1582" width="617" height="3"/><rect x="1891" y="1641" width="617" height="3"/><rect x="1891" y="1700" width="617" height="3"/><rect x="1891" y="1759" width="617" height="3"/><rect x="1891" y="1818" width="617" height="3"/><rect x="1891" y="1877" width="617" height="4"/><rect x="1891" y="1937" width="617" height="3"/>
</g>
<!-- frames -->
<g fill="none" stroke="#222" stroke-width="1.5">
<rect x="1891" y="875" width="617" height="56"/><rect x="1891" y="934" width="617" height="56"/><rect x="1891" y="993" width="617" height="56"/><rect x="1891" y="1052" width="617" height="56"/><rect x="1891" y="1112" width="617" height="56"/><rect x="1891" y="1171" width="617" height="56"/><rect x="1891" y="1230" width="617" height="56"/><rect x="1891" y="1289" width="617" height="56"/><rect x="1891" y="1348" width="617" height="56"/><rect x="1891" y="1407" width="617" height="56"/><rect x="1891" y="1467" width="617" height="56"/><rect x="1891" y="1526" width="617" height="56"/><rect x="1891" y="1585" width="617" height="56"/><rect x="1891" y="1644" width="617" height="56"/><rect x="1891" y="1703" width="617" height="56"/><rect x="1891" y="1762" width="617" height="56"/><rect x="1891" y="1821" width="617" height="56"/><rect x="1891" y="1881" width="617" height="56"/><rect x="1891" y="1940" width="617" height="56"/>
</g>
<!-- panel letters -->
<g class="pl">
<text x="1800" y="884">(a)</text><text x="1800" y="943">(b)</text><text x="1800" y="1002">(c)</text><text x="1800" y="1061">(d)</text><text x="1800" y="1121">(e)</text><text x="1800" y="1180">(f)</text><text x="1800" y="1239">(g)</text><text x="1800" y="1298">(h)</text><text x="1800" y="1357">(i)</text><text x="1800" y="1416">(j)</text><text x="1800" y="1476">(k)</text><text x="1800" y="1535">(l)</text><text x="1800" y="1594">(m)</text><text x="1800" y="1653">(n)</text><text x="1800" y="1712">(o)</text><text x="1800" y="1771">(p)</text><text x="1800" y="1830">(q)</text><text x="1800" y="1890">(r)</text><text x="1800" y="1949">(s)</text>
</g>
<!-- tick labels -->
<g class="tk">
<text x="1887" y="881">2000</text><text x="1887" y="896">1500</text><text x="1887" y="911">1000</text><text x="1887" y="927">500</text>
<text x="1887" y="941">20</text><text x="1887" y="953.5">10</text><text x="1887" y="966">0</text><text x="1887" y="978.5">-10</text><text x="1887" y="991">-20</text>
<text x="1887" y="1000">40</text><text x="1887" y="1012.5">20</text><text x="1887" y="1025">0</text><text x="1887" y="1037.5">-20</text><text x="1887" y="1050">-40</text>
<text x="1887" y="1064">10</text><text x="1887" y="1075">1</text><text x="1887" y="1086">0.1</text><text x="1887" y="1097">0.01</text>
<text x="1887" y="1119">10</text><text x="1887" y="1131.5">5</text><text x="1887" y="1144">0</text><text x="1887" y="1156.5">-5</text><text x="1887" y="1169">-10</text>
<text x="1887" y="1178">20</text><text x="1887" y="1190.5">10</text><text x="1887" y="1203">0</text><text x="1887" y="1215.5">-10</text><text x="1887" y="1228">-20</text>
<text x="1887" y="1240">10</text><text x="1887" y="1263">1</text><text x="1887" y="1286">0.1</text>
<text x="1887" y="1296">20</text><text x="1887" y="1308.5">10</text><text x="1887" y="1321">0</text><text x="1887" y="1333.5">-10</text><text x="1887" y="1346">-20</text>
<text x="1887" y="1355">20</text><text x="1887" y="1367.5">10</text><text x="1887" y="1380">0</text><text x="1887" y="1392.5">-10</text><text x="1887" y="1405">-20</text>
<text x="1887" y="1416">10</text><text x="1887" y="1433">1</text><text x="1887" y="1449">0.1</text><text x="1887" y="1463">0.01</text>
<text x="1887" y="1474">20</text><text x="1887" y="1486.5">10</text><text x="1887" y="1499">0</text><text x="1887" y="1511.5">-10</text><text x="1887" y="1524">-20</text>
<text x="1887" y="1533">20</text><text x="1887" y="1545.5">10</text><text x="1887" y="1558">0</text><text x="1887" y="1570.5">-10</text><text x="1887" y="1583">-20</text>
<text x="1887" y="1596">10</text><text x="1887" y="1612">1</text><text x="1887" y="1626">0.1</text><text x="1887" y="1641">0.01</text>
<text x="1887" y="1651">20</text><text x="1887" y="1663.5">10</text><text x="1887" y="1676">0</text><text x="1887" y="1688.5">-10</text><text x="1887" y="1701">-20</text>
<text x="1887" y="1710">20</text><text x="1887" y="1722.5">10</text><text x="1887" y="1735">0</text><text x="1887" y="1747.5">-10</text><text x="1887" y="1760">-20</text>
<text x="1887" y="1777">10</text><text x="1887" y="1794">1</text><text x="1887" y="1809">0.1</text>
<text x="1887" y="1828">20</text><text x="1887" y="1840.5">10</text><text x="1887" y="1853">0</text><text x="1887" y="1865.5">-10</text><text x="1887" y="1878">-20</text>
<text x="1887" y="1888">20</text><text x="1887" y="1900.5">10</text><text x="1887" y="1913">0</text><text x="1887" y="1925.5">-10</text><text x="1887" y="1938">-20</text>
<text x="1887" y="1956">10</text><text x="1887" y="1972">1</text><text x="1887" y="1989">0.1</text>
</g>
<!-- y axis labels -->
<g class="yl">
<text transform="rotate(-90 1846 903)" x="1846" y="907.5">AE(nT)</text>
<text transform="rotate(-90 1846 962)" x="1846" y="966.5">δB<tspan font-size="8" dy="3">FA</tspan><tspan dy="-3">(nT)</tspan></text>
<text transform="rotate(-90 1846 1021)" x="1846" y="1025.5">δV<tspan font-size="8" dy="3">FA</tspan><tspan dy="-3">(km/s)</tspan></text>
<text transform="rotate(-90 1838 1080)" x="1838" y="1084.5">H+  E</text>
<text transform="rotate(-90 1853 1080)" x="1853" y="1084.5">(keV)</text>
<text transform="rotate(-90 1846 1140)" x="1846" y="1144.5">δB<tspan font-size="8" dy="3">FA</tspan><tspan dy="-3">(nT)</tspan></text>
<text transform="rotate(-90 1846 1199)" x="1846" y="1203.5">δV<tspan font-size="8" dy="3">FA</tspan><tspan dy="-3">(km/s)</tspan></text>
<text transform="rotate(-90 1838 1258)" x="1838" y="1262.5">e-  E</text>
<text transform="rotate(-90 1853 1258)" x="1853" y="1262.5">(keV)</text>
<text transform="rotate(-90 1846 1317)" x="1846" y="1321.5">δB<tspan font-size="8" dy="3">FA</tspan><tspan dy="-3">(nT)</tspan></text>
<text transform="rotate(-90 1846 1376)" x="1846" y="1380.5">δV<tspan font-size="8" dy="3">FA</tspan><tspan dy="-3">(km/s)</tspan></text>
<text transform="rotate(-90 1838 1435)" x="1838" y="1439.5">e-  E</text>
<text transform="rotate(-90 1853 1435)" x="1853" y="1439.5">(keV)</text>
<text transform="rotate(-90 1846 1495)" x="1846" y="1499.5">δB<tspan font-size="8" dy="3">FA</tspan><tspan dy="-3">(nT)</tspan></text>
<text transform="rotate(-90 1846 1554)" x="1846" y="1558.5">δV<tspan font-size="8" dy="3">FA</tspan><tspan dy="-3">(km/s)</tspan></text>
<text transform="rotate(-90 1838 1613)" x="1838" y="1617.5">e-  E</text>
<text transform="rotate(-90 1853 1613)" x="1853" y="1617.5">(keV)</text>
<text transform="rotate(-90 1846 1672)" x="1846" y="1676.5">δB<tspan font-size="8" dy="3">FA</tspan><tspan dy="-3">(nT)</tspan></text>
<text transform="rotate(-90 1846 1731)" x="1846" y="1735.5">δV<tspan font-size="8" dy="3">FA</tspan><tspan dy="-3">(km/s)</tspan></text>
<text transform="rotate(-90 1838 1790)" x="1838" y="1794.5">e-  E</text>
<text transform="rotate(-90 1853 1790)" x="1853" y="1794.5">(keV)</text>
<text transform="rotate(-90 1846 1849)" x="1846" y="1853.5">δB<tspan font-size="8" dy="3">FA</tspan><tspan dy="-3">(nT)</tspan></text>
<text transform="rotate(-90 1846 1909)" x="1846" y="1913.5">δV<tspan font-size="8" dy="3">FA</tspan><tspan dy="-3">(km/s)</tspan></text>
<text transform="rotate(-90 1838 1968)" x="1838" y="1972.5">e-  E</text>
<text transform="rotate(-90 1853 1968)" x="1853" y="1972.5">(keV)</text>
</g>
<!-- legends -->
<g class="lg">
<text x="2516" y="951" fill="#111">Br</text><text x="2516" y="966" fill="#2a4fb0">Ba</text><text x="2516" y="981" fill="#e6302a">Bp</text>
<text x="2516" y="1015" fill="#e6302a">Vr</text><text x="2516" y="1035" fill="#2a4fb0">Va</text>
<text x="2516" y="1129" fill="#111">Br</text><text x="2516" y="1144" fill="#2a4fb0">Ba</text><text x="2516" y="1159" fill="#e6302a">Bp</text>
<text x="2516" y="1193" fill="#e6302a">Vr</text><text x="2516" y="1213" fill="#2a4fb0">Va</text>
<text x="2516" y="1306" fill="#111">Br</text><text x="2516" y="1321" fill="#2a4fb0">Ba</text><text x="2516" y="1336" fill="#e6302a">Bp</text>
<text x="2516" y="1370" fill="#e6302a">Vr</text><text x="2516" y="1390" fill="#2a4fb0">Va</text>
<text x="2516" y="1484" fill="#111">Br</text><text x="2516" y="1499" fill="#2a4fb0">Ba</text><text x="2516" y="1514" fill="#e6302a">Bp</text>
<text x="2516" y="1548" fill="#e6302a">Vr</text><text x="2516" y="1568" fill="#2a4fb0">Va</text>
<text x="2516" y="1661" fill="#111">Br</text><text x="2516" y="1676" fill="#2a4fb0">Ba</text><text x="2516" y="1691" fill="#e6302a">Bp</text>
<text x="2516" y="1725" fill="#e6302a">Vr</text><text x="2516" y="1745" fill="#2a4fb0">Va</text>
<text x="2516" y="1838" fill="#111">Br</text><text x="2516" y="1853" fill="#2a4fb0">Ba</text><text x="2516" y="1868" fill="#e6302a">Bp</text>
<text x="2516" y="1903" fill="#e6302a">Vr</text><text x="2516" y="1923" fill="#2a4fb0">Va</text>
</g>
<!-- n_e labels -->
<g class="s" font-size="10" fill="#111">
<text x="2511" y="1240">10³</text><text x="2511" y="1263">10²</text><text x="2511" y="1286">10¹</text>
<text x="2511" y="1440">10⁻¹</text>
<text x="2511" y="1592">10²</text><text x="2511" y="1625">10¹</text>
<text x="2511" y="1772">10²</text><text x="2511" y="1816">10¹</text>
<text x="2511" y="1953">10²</text><text x="2511" y="1994">10¹</text>
</g>
<g class="s" font-size="11" fill="#111" text-anchor="middle">
<text transform="rotate(-90 2540 1258)" x="2540" y="1262">nₑ(cm⁻³ white)</text>
<text transform="rotate(-90 2540 1435)" x="2540" y="1439">nₑ(cm⁻³)</text>
<text transform="rotate(-90 2540 1613)" x="2540" y="1617">nₑ(cm⁻³)</text>
<text transform="rotate(-90 2540 1790)" x="2540" y="1794">nₑ(cm⁻³)</text>
<text transform="rotate(-90 2540 1968)" x="2540" y="1972">nₑ(cm⁻³)</text>
<text transform="rotate(-90 2597 1080)" x="2597" y="1084">(cm² s sr eV)⁻¹</text>
<text transform="rotate(-90 2597 1258)" x="2597" y="1262">(cm² s sr eV)⁻¹</text>
<text transform="rotate(-90 2597 1435)" x="2597" y="1439">eV/(cm² s sr eV)</text>
<text transform="rotate(-90 2597 1613)" x="2597" y="1617">eV/(cm² s sr eV)</text>
<text transform="rotate(-90 2597 1790)" x="2597" y="1794">(s⁻¹)</text>
<text transform="rotate(-90 2597 1968)" x="2597" y="1972">(s⁻¹)</text>
</g>
<!-- colorbars -->
<g fill="url(#jetv)" stroke="#333" stroke-width="0.8">
<rect x="2564" y="1054" width="13" height="52"/><rect x="2564" y="1232" width="13" height="52"/><rect x="2564" y="1409" width="13" height="52"/><rect x="2564" y="1587" width="13" height="52"/><rect x="2564" y="1764" width="13" height="52"/><rect x="2564" y="1942" width="13" height="52"/>
</g>
<!-- satellite brackets -->
<path d="M2610,934 H2618 V995 M2618,1047 V1108 H2610 M2610,1112 H2618 V1180 M2618,1218 V1286 H2610 M2610,1289 H2618 V1337 M2618,1415 V1463 H2610 M2610,1467 H2618 V1515 M2618,1593 V1641 H2610 M2610,1644 H2618 V1702 M2618,1760 V1818 H2610 M2610,1821 H2618 V1879 M2618,1937 V1996 H2610" fill="none" stroke="#222" stroke-width="1.5"/>
<g class="s" font-size="15" fill="#111" text-anchor="middle">
<text transform="rotate(-90 2618 1021)" x="2618" y="1026">MMS-1</text>
<text transform="rotate(-90 2618 1199)" x="2618" y="1204">ERG</text>
<text transform="rotate(-90 2618 1376)" x="2618" y="1381">Themis-E</text>
<text transform="rotate(-90 2618 1554)" x="2618" y="1559">Themis-A</text>
<text transform="rotate(-90 2618 1731)" x="2618" y="1736">VAP-A</text>
<text transform="rotate(-90 2618 1908)" x="2618" y="1913">VAP-B</text>
</g>
<!-- time axis -->
<g class="s" font-size="14" fill="#111" text-anchor="middle">
<text x="1848" y="2016">UTC</text><text x="1891" y="2016">13:30</text><text x="1994" y="2016">13:45</text><text x="2097" y="2016">14:00</text><text x="2200" y="2016">14:15</text><text x="2302" y="2016">14:30</text><text x="2405" y="2016">14:45</text><text x="2508" y="2016">15:00</text>
</g>
</svg>

<script>
(function(){
var NS='http://www.w3.org/2000/svg';
var S=2463534242;
function R(){S^=S<<13;S>>>=0;S^=S>>>17;S^=S<<5;S>>>=0;return S/4294967296;}
function G(){return R()+R()+R()-1.5;}
function cl(v,a,b){return v<a?a:(v>b?b:v);}
function la(a,t){if(typeof a==='function')return a(t);if(t<=a[0][0])return a[0][1];for(var i=1;i<a.length;i++){if(t<=a[i][0]){var p=a[i-1],q=a[i];var dt=q[0]-p[0];return dt>0?p[1]+(q[1]-p[1])*(t-p[0])/dt:q[1];}}return a[a.length-1][1];}
var T=[875,934,993,1052,1112,1171,1230,1289,1348,1407,1467,1526,1585,1644,1703,1762,1821,1881,1940];
var X0=1891,X1=2508,H=56;
var defs=document.getElementById('dfs'),TR=document.getElementById('traces'),TK=document.getElementById('ticks');
function el(tag,at,par){var e=document.createElementNS(NS,tag);for(var k in at)e.setAttribute(k,at[k]);par.appendChild(e);return e;}
for(var i=0;i<T.length;i++){var cp=el('clipPath',{id:'cp'+i},defs);el('rect',{x:X0,y:T[i],width:X1-X0,height:H},cp);}
var d='';
for(var i=0;i<T.length;i++){var t0=T[i],m=t0+H/2;
 for(var k=1;k<6;k++){var x=(X0+k*(X1-X0)/6).toFixed(1);d+='M'+x+','+t0+'v5M'+x+','+(t0+H)+'v-5';}
 for(var j=-2;j<=2;j++){var y=m+j*12.5;d+='M'+X0+','+y+'h5M'+X1+','+y+'h-5';}
 for(var j=-1.5;j<=1.5;j+=1){var y=m+j*12.5;d+='M'+X0+','+y+'h3M'+X1+','+y+'h-3';}
}
el('path',{d:d,stroke:'#222','stroke-width':1,fill:'none'},TK);
var LP=[1,2,4,5,7,8,10,11,13,14,16,17],zd='';
for(var i=0;i<LP.length;i++){var y=T[LP[i]]+H/2;zd+='M'+X0+','+y+'H'+X1;}
el('path',{d:zd,stroke:'#111','stroke-width':1.3,'stroke-dasharray':'1.5 3',fill:'none'},TK);
var BK='#111',BL='#2a4fb0',RD='#e6302a';
function tr(pi,anch,col,amp,rho,n,w){
 var top=T[pi],mid=top+H/2,s=H/2-3;n=n||520;rho=(rho==null)?0.85:rho;
 var z=0,p='';
 for(var k=0;k<=n;k++){var t=k/n;var a=(typeof amp==='function')?amp(t):amp;
  z=rho*z+G()*a*Math.sqrt(1-rho*rho)*1.4;
  var v=la(anch,t)+z+G()*a*0.25;
  var x=X0+t*(X1-X0),y=mid-v*s;
  p+=(k?'L':'M')+x.toFixed(1)+','+y.toFixed(1);}
 el('path',{d:p,fill:'none',stroke:col,'stroke-width':w||1,'stroke-linejoin':'round','clip-path':'url(#cp'+pi+')'},TR);
}
tr(1,[[0,0.5],[0.06,0.7],[0.09,0.6],[0.115,-1.2],[0.185,-1.2],[0.2,0.1],[0.25,0.6],[0.3,0.7],[0.35,0.45],[0.4,0.15],[0.5,0.05],[0.58,-0.3],[0.62,-0.35],[0.66,0.15],[0.7,0.3],[0.73,0.3],[0.78,0],[0.85,-0.1],[0.92,-0.1],[1,0]],RD,0.03);
tr(1,[[0,-0.3],[0.05,-0.6],[0.1,-0.4],[0.13,-0.3],[0.16,0.4],[0.19,0.8],[0.2,-0.2],[0.22,0.5],[0.26,0.4],[0.3,0.2],[0.35,0.1],[0.4,0],[0.5,-0.1],[0.56,-0.2],[0.6,0],[0.63,-0.3],[0.66,0.3],[0.72,0.2],[0.78,-0.1],[0.85,-0.1],[0.95,-0.1],[0.98,0.3],[1,0]],BL,0.04);
tr(1,[[0,-0.05],[0.08,-0.05],[0.1,0.3],[0.13,0.3],[0.15,-0.2],[0.18,0.3],[0.2,-0.4],[0.23,0.1],[0.26,-0.3],[0.3,0.2],[0.33,0.1],[0.4,0.05],[0.5,0],[0.55,-0.2],[0.58,0.3],[0.62,0.1],[0.65,-0.2],[0.7,-0.2],[0.75,0.1],[0.85,0.05],[0.9,0.05],[1,-0.1]],BK,0.03);
var ac=function(t){return t<0.27?0.25:(t<0.5?0.08:(t<0.8?0.18:(t>0.96?0.45:0.12)));};
tr(2,[[0,0],[0.04,0.3],[0.08,-0.2],[0.12,0.1],[0.15,-0.5],[0.17,-0.9],[0.185,-0.3],[0.19,1.3],[0.2,-1.2],[0.21,0.3],[0.25,0.1],[0.3,0],[0.45,0],[0.5,-0.3],[0.55,0.1],[0.6,0.3],[0.62,0.1],[0.635,-1.3],[0.64,0.1],[0.68,0.2],[0.72,0.1],[1,0]],RD,ac,0.5);
tr(2,[[0,-0.2],[0.03,0.5],[0.05,1.2],[0.06,0.2],[0.1,0.3],[0.14,0.1],[0.17,0.4],[0.19,-1.3],[0.2,0.3],[0.25,0],[0.45,0],[0.47,0.7],[0.5,0.1],[0.55,0],[0.6,0.3],[0.63,0.4],[0.66,-0.3],[0.7,-0.5],[0.72,0],[1,0.1]],BL,ac,0.5);
tr(4,[[0,0.1],[0.1,-0.1],[0.2,0.4],[0.27,0.8],[0.3,0.5],[0.33,-0.6],[0.37,-1],[0.42,-0.7],[0.47,-0.3],[0.5,0.4],[0.55,0.5],[0.6,0.2],[0.7,0.1],[0.75,0.1],[0.8,-0.2],[0.85,0.1],[0.9,0],[1,0.1]],RD,function(t){return t>0.6?0.1:0.03;},0.6);
tr(4,[[0,0.1],[0.08,-0.35],[0.15,0.1],[0.4,0],[0.5,-0.1],[0.6,0],[0.75,0],[0.85,0],[0.9,0.7],[0.95,-0.5],[1,-0.3]],BL,0.04);
tr(4,[[0,-0.1],[0.12,0.4],[0.2,0.1],[0.3,0.05],[0.4,-0.2],[0.5,0],[0.6,0.05],[0.64,0.3],[0.7,0],[1,0]],BK,function(t){return t>0.6?0.13:0.03;},0.2);
tr(5,[[0,0],[0.3,0],[0.44,-0.9],[0.46,-0.6],[0.5,0.7],[0.55,0.6],[0.6,0.4],[0.65,0],[0.7,-0.3],[0.75,0.2],[0.8,0.5],[0.9,0.3],[1,0]],RD,function(t){return t>0.6?0.2:0.02;},0.5);
tr(5,[[0,0],[0.43,0],[0.45,-0.2],[0.6,-0.15],[0.7,0],[0.8,0.1],[1,0]],BL,function(t){return t>0.6?0.08:0.02;},0.6);
tr(7,[[0,0.1],[0.2,0.2],[0.3,0.3],[0.45,-0.1],[0.55,0.2],[0.68,0.4],[0.73,-0.5],[0.8,0.1],[0.85,-0.3],[0.93,0],[1,-0.9]],RD,0.05);
tr(7,[[0,0.1],[0.1,0.05],[0.3,0.15],[0.35,-0.1],[0.5,0],[0.7,-0.2],[0.8,0],[1,0]],BL,0.05);
tr(7,[[0,0],[0.1,-0.2],[0.2,0.1],[0.25,0.3],[0.3,0.1],[0.38,0.5],[0.45,0.4],[0.47,-0.4],[0.5,-0.8],[0.55,0.2],[0.58,0.6],[0.61,-0.5],[0.63,-0.8],[0.66,0],[0.7,0.1],[0.75,0.1],[0.85,0.1],[0.95,0.2],[1,0.15]],BK,0.06,0.5);
var ai=function(t){return t<0.2?0.22:0.1;};
tr(8,[[0,-0.3],[0.03,-0.6],[0.06,-0.9],[0.09,-0.3],[0.12,-0.7],[0.14,-1.2],[0.16,0],[0.2,0.1],[0.3,0.1],[0.35,-0.1],[0.45,0],[0.46,-0.4],[0.5,0.1],[0.6,0.1],[0.62,-0.5],[0.64,0.1],[0.68,0.3],[0.7,0.8],[0.72,0],[0.76,0.3],[0.8,-0.2],[1,-0.1]],RD,ai,0.5);
tr(8,[[0,-0.6],[0.03,0.3],[0.05,0.8],[0.07,0.4],[0.1,-0.5],[0.13,0.2],[0.16,0.1],[0.3,0.2],[0.5,0.05],[0.7,0.05],[0.75,0.1],[0.85,-0.1],[0.9,0.15],[1,0.15]],BL,ai,0.5);
tr(10,[[0,0.1],[0.25,0],[0.27,0.6],[0.35,0.5],[0.45,-0.2],[0.55,-0.1],[0.6,0.5],[0.65,-0.3],[0.7,0.4],[0.8,-0.2],[0.9,-0.3],[1,-0.5]],RD,0.05);
tr(10,[[0,0],[0.4,0],[0.5,-0.1],[0.8,-0.4],[0.85,0],[1,0]],BL,0.05);
tr(10,[[0,0],[0.1,-0.1],[0.14,-0.5],[0.2,0],[0.3,0.3],[0.36,0.8],[0.4,-0.5],[0.45,0.4],[0.5,0.7],[0.55,0.2],[0.58,-0.6],[0.62,0.2],[0.67,0.5],[0.7,-0.2],[0.75,0],[0.8,0.3],[0.9,0.1],[1,0.2]],BK,0.06,0.5);
var al=function(t){return t<0.66?0.28:0.08;};
tr(11,[[0,0.4],[0.03,0.7],[0.06,-0.3],[0.1,0.3],[0.14,-0.6],[0.18,0.5],[0.2,0.7],[0.22,-0.2],[0.25,-0.6],[0.3,0.1],[0.34,-0.3],[0.4,0],[0.45,0.9],[0.48,0],[0.52,-0.4],[0.55,0.2],[0.6,0.3],[0.64,0.7],[0.66,-0.2],[0.7,0],[1,-0.05]],RD,al,0.45);
tr(11,[[0,0],[0.03,-0.8],[0.06,0.3],[0.1,0.1],[0.14,0.1],[0.2,-0.1],[0.25,0.2],[0.3,0.4],[0.35,0.1],[0.4,-0.4],[0.45,-0.3],[0.5,0.2],[0.6,-0.1],[0.64,-0.3],[0.65,-1.1],[0.66,0.1],[0.7,0.05],[1,0.05]],BL,al,0.45);
tr(13,[[0,0.3],[0.2,0.1],[0.3,0.2],[0.6,-0.1],[0.9,-0.4],[1,-0.2]],RD,0.06);
tr(13,[[0,0],[0.5,0.1],[1,0.1]],BL,0.06);
tr(13,[[0,0],[0.1,0.2],[0.15,0.7],[0.2,-0.3],[0.24,-1],[0.27,0.4],[0.32,0.7],[0.35,-0.3],[0.5,0.1],[0.62,0.7],[0.66,0],[0.75,-0.1],[1,0]],BK,0.06,0.5);
var ao=function(t){return t<0.55?0.3:0.1;};
tr(14,[[0,0.2],[0.05,-0.3],[0.08,0.6],[0.1,-1.2],[0.12,0.3],[0.15,0.8],[0.18,-0.5],[0.2,0.4],[0.25,-1],[0.3,0.9],[0.32,-0.3],[0.38,0.6],[0.4,-0.6],[0.45,0.2],[0.5,-1.1],[0.52,0.3],[0.6,0],[1,0]],RD,ao,0.4);
tr(14,[[0,0],[0.1,0.4],[0.15,-0.5],[0.2,0.3],[0.3,0.5],[0.35,-0.3],[0.4,0.2],[0.57,1.1],[0.58,0],[0.7,0],[1,0]],BL,ao,0.4);
tr(16,[[0,0.3],[0.1,0.6],[0.17,-0.2],[0.3,0],[0.5,0],[0.7,0.1],[0.9,0],[0.95,0.3],[1,-0.2]],RD,0.04);
tr(16,[[0,0.4],[0.1,-0.3],[0.17,-0.6],[0.25,0.3],[0.38,-0.6],[0.47,0.4],[0.6,0],[0.9,0.1],[0.92,-0.8],[0.97,0],[1,0]],BL,0.04);
tr(16,[[0,0],[0.1,0.3],[0.15,0.5],[0.2,-0.3],[0.3,0.1],[0.38,0.6],[0.42,-0.5],[0.5,0.1],[0.6,-0.1],[0.7,0],[0.9,0],[0.93,0.4],[0.97,-0.2],[1,-0.1]],BK,0.05,0.5);
tr(17,function(t){var v=0.35*Math.sin(2*Math.PI*t*14+1)*(0.6+0.4*Math.sin(t*9));if(t>0.9&&t<0.94)v-=1.1*Math.sin((t-0.9)/0.04*Math.PI);return v;},RD,0.08,0.6);
tr(17,function(t){var v=0.3*Math.sin(2*Math.PI*t*11+2);if(t>0.385&&t<0.415)v+=0.9*Math.sin((t-0.385)/0.03*Math.PI);return v;},BL,0.07,0.6);

var CM=[[0,[28,36,104]],[0.12,[30,64,170]],[0.25,[40,128,214]],[0.35,[62,182,226]],[0.45,[128,208,160]],[0.55,[200,224,90]],[0.65,[245,226,58]],[0.75,[247,160,42]],[0.86,[230,62,30]],[1,[135,14,14]]];
function cm(v){v=cl(v,0,1);for(var i=1;i<CM.length;i++){if(v<=CM[i][0]){var a=CM[i-1],b=CM[i],f=(v-a[0])/(b[0]-a[0]);return [a[1][0]+(b[1][0]-a[1][0])*f,a[1][1]+(b[1][1]-a[1][1])*f,a[1][2]+(b[1][2]-a[1][2])*f];}}return CM[CM.length-1][1];}
function sm(n,rho,sc){var a=[],z=0;for(var i=0;i<n;i++){z=rho*z+(R()-0.5)*sc;a.push(z);}return a;}
function zn(t,Z){var m=0;for(var i=0;i<Z.length;i++){var a=Z[i][0],b=Z[i][1],s=Z[i][2],w;if(t>=a&&t<=b)w=1;else if(t<a)w=1-(a-t)/0.012;else w=1-(t-b)/0.012;if(w>0&&w*s>m)m=w*s;}return m;}
function spec(id,f){var c=document.getElementById(id);if(!c||!c.getContext)return;var W=c.width,Hh=c.height,ctx=c.getContext('2d'),im=ctx.createImageData(W,Hh),D=im.data;
 var cn=sm(W,0.85,0.35),cs=sm(W,0.5,0.6),rn=sm(Hh,0.5,0.2);
 for(var x=0;x<W;x++){var t=x/(W-1);for(var y=0;y<Hh;y++){var e=y/(Hh-1);var v=f(t,e,cn[x]+rn[y]+(R()-0.5)*0.25,cs[x],x);var col=cm(v);var k=(y*W+x)*4;D[k]=col[0];D[k+1]=col[1];D[k+2]=col[2];D[k+3]=255;}}
 ctx.putImageData(im,0,0);}
var bD=[],spD=[],bb=0;for(var x=0;x<617;x++){if(x%3==0)bb=(R()-0.5)*0.18+0.05*Math.sin(x/40);bD.push(bb);spD.push(x>280&&R()<0.015);}
spec('sd',function(t,e,n,s,x){var b=0.45+bD[x];if(e>b){if(spD[x]&&e>0.55&&e<0.72)return 0.78;return 0.01;}if(e>b-0.07)return 0.32+0.1*n;if(e<0.1)return 0.34+0.1*n;var tri=cl(1-Math.abs(e-0.3)/0.22,0,1);return 0.46+0.12*tri+0.12*cl((t-0.5)/0.5,0,1)*tri+0.12*n;});
spec('sg',function(t,e,n,s,x){var tb=0.37+0.09*Math.pow(1-e,1.3)+0.01*s;if(t<tb){var v=0.02;if(e>0.4)v+=0.28*(e-0.4)/0.6*(0.6+s);return v+0.03*n;}var eb=0.27-0.15*cl((t-0.55)/0.35,0,1);if(e<eb)return 0.02+0.03*n;var dd=(e-eb)/(1-eb);var w=cl((t-0.45)/0.35,0,1);var v2=0.34+dd*(0.3+0.42*w)+0.1*n+0.06*s*dd;if(t-tb<0.04)v2=Math.min(v2,0.5);return v2;});
spec('sj',function(t,e,n,s,x){if(e<0.09)return 0.3+0.1*n;if(Math.abs(e-(0.13+0.12*t))<0.04&&t<0.5)return 0.2+0.05*n;var v=e<0.3?0.4+(e-0.09)*0.5:0.52+(e-0.3)*0.28;var hot=zn(t,[[0.13,0.16,0.12],[0.22,0.25,0.08],[0.44,0.47,0.12],[0.52,0.54,0.1],[0.58,0.64,0.18],[0.71,0.77,0.2],[0.8,0.83,0.08]]);v+=hot*cl((e-0.3)/0.3,0,1)+0.08*s*cl((e-0.3)/0.3,0,1)+0.08*n;if(e>0.92)v+=0.04;return v;});
spec('sm',function(t,e,n,s,x){if(t<0.03&&e>0.12)return 0.9+0.05*n;if(e<0.08)return 0.36+0.08*n;if(e<0.33){if(t<0.6)return 0.13+0.08*n+0.05*s;return 0.37+0.08*n;}if(e<0.6)return 0.42+(e-0.33)*0.45+0.08*n;var hot=zn(t,[[0.05,0.08,1],[0.12,0.16,0.8],[0.2,0.26,0.9],[0.3,0.36,1],[0.4,0.43,0.9],[0.47,0.51,1],[0.56,0.59,0.9],[0.64,0.73,1],[0.77,0.84,1],[0.86,0.88,0.6]]);var base=0.55+0.1*(e-0.6)/0.4;var v=base+hot*(0.22+0.13*(e-0.6)/0.4)+0.08*n+0.05*s;if(e>0.9)v+=0.05;return v;});
spec('sp',function(t,e,n,s,x){if(e<0.08)return 0.3+0.08*n;var hot=zn(t,[[0.26,0.3,1],[0.37,0.4,0.8],[0.46,0.57,1],[0.63,0.67,0.9],[0.75,0.81,1]]);if(e<0.45)return 0.17+0.1*n+(e>0.36?0.06:0);if(e<0.72)return 0.42+0.12*(e-0.45)/0.27+hot*0.25+0.06*n;return 0.58+hot*(0.28+0.1*(e-0.72)/0.28)+0.06*n;});
spec('ss',function(t,e,n,s,x){if(e<0.07)return 0.3+0.08*n;var hot=zn(t,[[0.19,0.21,1],[0.37,0.42,0.9],[0.46,0.52,0.9],[0.91,0.94,1]]);if(e<0.4)return 0.16+0.1*n+(e>0.3?0.08:0);if(e<0.82)return 0.4+0.12*(e-0.4)/0.42+hot*0.2*cl((e-0.5)/0.3,0,1)+0.05*n;return 0.6+hot*0.33+0.05*n;});
})();
</script>
</body></html>
